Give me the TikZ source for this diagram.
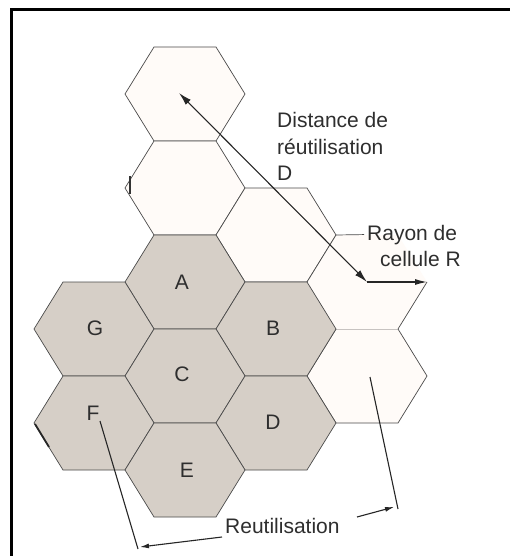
\documentclass[tikz,border=0pt]{standalone}
\usepackage{fontspec}
\setmainfont{Liberation Sans}
\usetikzlibrary{arrows.meta}
\definecolor{cellgray}{HTML}{D6CFC7}
\definecolor{celllight}{HTML}{FFFBF8}
\definecolor{edgecol}{HTML}{4A4A4A}
\definecolor{txtcol}{HTML}{2E2E2E}
\begin{document}
\begin{tikzpicture}[x=1pt,y=-1pt,
  hexcell/.pic={\path[pic actions] (-60,0) -- (-31,-47) -- (31,-47) -- (60,0) -- (31,47) -- (-31,47) -- cycle;},
  shadedcell/.style={draw=edgecol, line width=0.7pt, fill=cellgray},
  plaincell/.style={draw=edgecol, line width=0.7pt, fill=celllight},
  edgeline/.style={draw=edgecol, line width=0.7pt},
  lbl/.style={font=\fontsize{21}{25}\selectfont, text=txtcol, inner sep=0pt, anchor=base west},
  letter/.style={font=\fontsize{21}{24}\selectfont, text=txtcol, inner sep=0pt},
  dimline/.style={draw=black!85, line width=1.1pt}
]
\useasboundingbox (0,0) rectangle (510,556);
\fill[white] (0,0) rectangle (510,556);

% cell centres
\coordinate (top) at (185,94);
\coordinate (mid) at (185,188);
\coordinate (cA) at (185,282);
\coordinate (cC) at (185,376);
\coordinate (cE) at (185,470);
\coordinate (cG) at (94,329);
\coordinate (cF) at (94,423);
\coordinate (r2) at (276,235);
\coordinate (cB) at (276,329);
\coordinate (cD) at (276,423);
\coordinate (r3a) at (367,282);
\coordinate (r3b) at (367,376);

% light cells
\pic[plaincell] at (top) {hexcell};
\pic[plaincell] at (mid) {hexcell};
\pic[plaincell] at (r2) {hexcell};
\pic[plaincell] at (r3b) {hexcell};
\pic[fill=celllight] at (r3a) {hexcell};

% shaded cluster
\pic[shadedcell] at (cA) {hexcell};
\pic[shadedcell] at (cG) {hexcell};
\pic[shadedcell] at (cB) {hexcell};
\pic[shadedcell] at (cC) {hexcell};
\pic[shadedcell] at (cF) {hexcell};
\pic[shadedcell] at (cD) {hexcell};
\pic[shadedcell] at (cE) {hexcell};

% partial cell edges
\draw[edgeline] (307,282) -- (336,235);
\draw[edgeline] (427,282) -- (398,329);
\draw[line width=1.8pt, black!85] (35,424) -- (49,447);
\draw[line width=1.5pt, black!80] (130,176) -- (130,194);

% cell letters
\node[letter] (lA) at (182,282) {A};
\node[letter] (lG) at (95,328) {G};
\node[letter] (lB) at (273,328) {B};
\node[letter] (lC) at (182,374) {C};
\node[letter] (lF) at (93,413) {F};
\node[letter] (lD) at (273,422) {D};
\node[letter] (lE) at (187,470) {E};

% labels
\node[lbl] (dist1) at (277,128) {Distance de};
\node[lbl] (dist2) at (277,154) {réutilisation};
\node[lbl] (dist3) at (277,180) {D};
\node[lbl] (ray1) at (367,240) {Rayon de};
\node[lbl] (ray2) at (380,266) {cellule R};
\node[lbl] (reut) at (225,533) {Reutilisation};

% reuse distance D and radius R
\coordinate (dTop) at (179,93);
\coordinate (r3aE) at (427,282);
\coordinate (r2E) at (336,235);
\draw[dimline, {Latex[length=13pt,width=7pt]}-{Latex[length=13pt,width=7pt]}] (dTop) -- (r3a);
\draw[dimline, -{Latex[length=12pt,width=6pt]}] (r3a) -- (r3aE);
\draw[edgeline] (r2E) -- ([xshift=-3pt]ray1.west);

% reuse dimension
\coordinate (extL1) at (100,421);
\coordinate (extL2) at (138,549);
\coordinate (extR1) at (370,377);
\coordinate (extR2) at (398,509);
\coordinate (dimL) at (140,547);
\coordinate (gapL) at (222,537);
\coordinate (gapR) at (357,517);
\coordinate (dimR) at (394,507);
\draw[dimline] (extL1) -- (extL2);
\draw[dimline] (extR1) -- (extR2);
\draw[dimline, {Latex[length=9pt,width=5pt]}-] (dimL) -- (gapL);
\draw[dimline, -{Latex[length=9pt,width=5pt]}] (gapR) -- (dimR);

% frame
\draw[line width=3pt, black] (11,556) -- (11,10) -- (510,10);
\end{tikzpicture}
\end{document}
